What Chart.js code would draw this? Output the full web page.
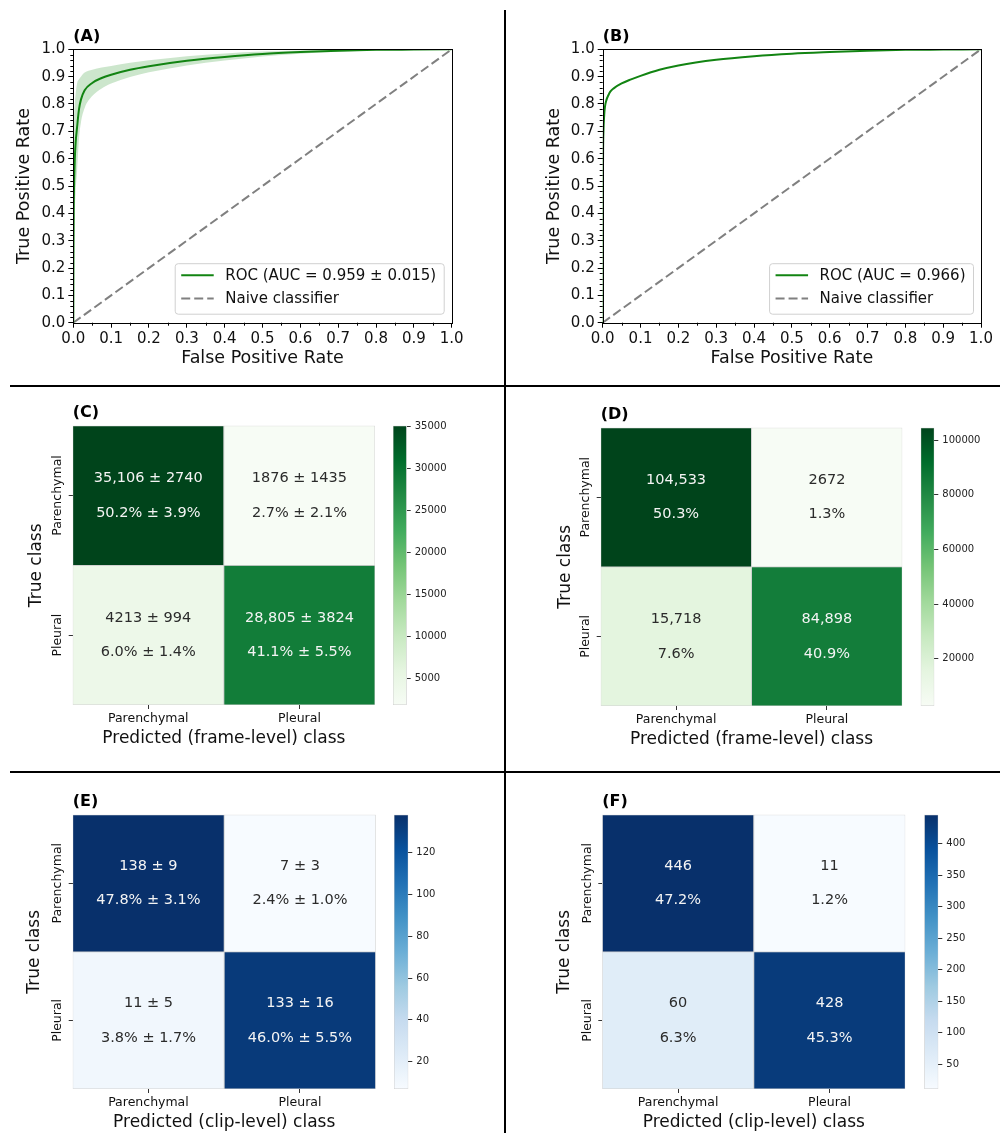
<!DOCTYPE html>
<html>
<head>
<meta charset="utf-8">
<script src="https://cdn.jsdelivr.net/npm/chart.js@4.4.1/dist/chart.umd.min.js"></script>
<style>
  html, body { margin: 0; padding: 0; background: #fff; }
  #fig { position: relative; width: 1003px; height: 1133px; overflow: hidden; background: #fff; }
  #fig canvas { position: absolute; }
  .rule { position: absolute; background: #000; }
</style>
</head>
<body>
<div id="fig">
  <canvas id="rocA" width="500" height="380" style="left:0px;top:0px"></canvas>
  <canvas id="rocB" width="473" height="380" style="left:530px;top:0px"></canvas>
  <canvas id="cmC" width="390" height="370" style="left:0px;top:390px"></canvas>
  <canvas id="cbC" width="120" height="370" style="left:380px;top:390px"></canvas>
  <canvas id="cmD" width="385" height="370" style="left:530px;top:390px"></canvas>
  <canvas id="cbD" width="88" height="370" style="left:915px;top:390px"></canvas>
  <canvas id="cmE" width="390" height="361" style="left:0px;top:772px"></canvas>
  <canvas id="cbE" width="120" height="361" style="left:380px;top:772px"></canvas>
  <canvas id="cmF" width="385" height="361" style="left:530px;top:772px"></canvas>
  <canvas id="cbF" width="88" height="361" style="left:915px;top:772px"></canvas>
  <div class="rule" style="left:504px;top:10px;width:2px;height:1123px"></div>
  <div class="rule" style="left:10px;top:385px;width:990px;height:2px"></div>
  <div class="rule" style="left:10px;top:771px;width:990px;height:2px"></div>
</div>
<script>
// ---------- ROC curves ----------
// (A) cross-validation: mean curve and ±1 sd band
const rocFprA      = [0, 0.0005, 0.001, 0.002, 0.004, 0.006, 0.01, 0.015, 0.02, 0.03, 0.05, 0.075, 0.1, 0.15, 0.2, 0.3, 0.4, 0.5, 0.6, 0.7, 0.8, 0.9, 1.0];
const rocTprMeanA  = [0, 0.25, 0.40, 0.50, 0.60, 0.655, 0.715, 0.78, 0.815, 0.85, 0.877, 0.895, 0.907, 0.925, 0.938, 0.958, 0.972, 0.983, 0.990, 0.995, 0.998, 0.999, 1.0];
const rocTprUpperA = [0, 0.45, 0.65, 0.74, 0.80, 0.835, 0.875, 0.89, 0.90, 0.915, 0.925, 0.933, 0.939, 0.951, 0.960, 0.975, 0.985, 0.992, 0.996, 0.999, 1.0, 1.0, 1.0];
const rocTprLowerA = [0, 0.05, 0.15, 0.26, 0.40, 0.475, 0.555, 0.67, 0.73, 0.785, 0.829, 0.857, 0.875, 0.899, 0.916, 0.941, 0.959, 0.974, 0.984, 0.991, 0.996, 0.998, 1.0];
// (B) hold-out set
const rocFprB = [0, 0.0005, 0.001, 0.002, 0.004, 0.006, 0.01, 0.015, 0.02, 0.03, 0.05, 0.075, 0.1, 0.15, 0.2, 0.3, 0.4, 0.5, 0.6, 0.7, 0.8, 0.9, 1.0];
const rocTprB = [0, 0.45, 0.62, 0.70, 0.76, 0.79, 0.815, 0.832, 0.845, 0.858, 0.875, 0.89, 0.903, 0.925, 0.941, 0.962, 0.975, 0.984, 0.990, 0.995, 0.998, 0.999, 1.0];
const naiveLine = [0, 1];
const rocTicks = [0, 0.1, 0.2, 0.3, 0.4, 0.5, 0.6, 0.7, 0.8, 0.9, 1.0];
const rocLabelA = 'ROC (AUC = 0.959 \u00b1 0.015)';
const rocLabelB = 'ROC (AUC = 0.966)';
const naiveLabel = 'Naive classifier';

// ---------- Confusion matrices (rows: true class, cols: predicted class) ----------
const classLabels = ['Parenchymal', 'Pleural'];
// (C) frame level, cross-validation mean ± sd
const frameCountMean = [[35106, 1876], [4213, 28805]];
const frameCountSd   = [[2740, 1435], [994, 3824]];
const framePctMean   = [[50.2, 2.7], [6.0, 41.1]];
const framePctSd     = [[3.9, 2.1], [1.4, 5.5]];
// (D) frame level, hold-out
const frameCountHold = [[104533, 2672], [15718, 84898]];
const framePctHold   = [[50.3, 1.3], [7.6, 40.9]];
// (E) clip level, cross-validation mean ± sd
const clipCountMean = [[138, 7], [11, 133]];
const clipCountSd   = [[9, 3], [5, 16]];
const clipPctMean   = [[47.8, 2.4], [3.8, 46.0]];
const clipPctSd     = [[3.1, 1.0], [1.7, 5.5]];
// (F) clip level, hold-out
const clipCountHold = [[446, 11], [60, 428]];
const clipPctHold   = [[47.2, 1.2], [6.3, 45.3]];
// colour bar ticks
const cbTicksC = [5000, 10000, 15000, 20000, 25000, 30000, 35000];
const cbTicksD = [20000, 40000, 60000, 80000, 100000];
const cbTicksE = [20, 40, 60, 80, 100, 120];
const cbTicksF = [50, 100, 150, 200, 250, 300, 350, 400];

// ---------- styling ----------
const FONT = "'DejaVu Sans', sans-serif";
const GREENS = ['#f7fcf5', '#e5f5e0', '#c7e9c0', '#a1d99b', '#74c476', '#41ab5d', '#238b45', '#006d2c', '#00441b'];
const BLUES  = ['#f7fbff', '#deebf7', '#c6dbef', '#9ecae1', '#6baed6', '#4292c6', '#2171b5', '#08519c', '#08306b'];
const ROC_GREEN = 'rgb(18,132,18)';
const BAND_GREEN = 'rgba(0,128,0,0.2)';
const TEXT = '#111';

Chart.defaults.font.family = FONT;
Chart.defaults.color = TEXT;

function hexToRgb(h) {
  const n = parseInt(h.slice(1), 16);
  return [(n >> 16) & 255, (n >> 8) & 255, n & 255];
}
function cmapRgb(stops, t) {
  t = Math.min(1, Math.max(0, t));
  const pos = t * (stops.length - 1);
  const i = Math.min(stops.length - 2, Math.floor(pos));
  const f = pos - i;
  const a = hexToRgb(stops[i]), b = hexToRgb(stops[i + 1]);
  return a.map((v, k) => Math.round(v + (b[k] - v) * f));
}
function luminance(rgb) {
  const lin = rgb.map(v => { v /= 255; return v <= 0.03928 ? v / 12.92 : Math.pow((v + 0.055) / 1.055, 2.4); });
  return 0.2126 * lin[0] + 0.7152 * lin[1] + 0.0722 * lin[2];
}
const rgbStr = c => `rgb(${c[0]},${c[1]},${c[2]})`;
const fmtCount = v => v >= 10000 ? v.toLocaleString('en-US') : String(v);
const fmtPct = v => v.toFixed(1) + '%';
const pts = (xs, ys) => xs.map((x, i) => ({ x, y: ys[i] }));

// panel letter above the plotting area
const panelLetter = {
  id: 'panelLetter',
  afterDraw(chart, args, opts) {
    const { ctx, chartArea: a } = chart;
    ctx.save();
    ctx.font = `bold 16px ${FONT}`;
    ctx.fillStyle = '#000';
    ctx.textAlign = 'left';
    ctx.textBaseline = 'middle';
    ctx.fillText(opts.text, a.left, a.top - 12.5);
    ctx.restore();
  }
};

// axes frame, minor ticks and legend box for the ROC panels
const rocDecor = {
  id: 'rocDecor',
  afterDraw(chart) {
    const { ctx, chartArea: a, scales } = chart;
    ctx.save();
    ctx.strokeStyle = '#000';
    ctx.lineWidth = 1;
    ctx.strokeRect(Math.round(a.left) + 0.5, Math.round(a.top) + 0.5,
                   Math.round(a.right) - Math.round(a.left), Math.round(a.bottom) - Math.round(a.top));
    // minor ticks
    ctx.beginPath();
    for (let i = 0; i < rocTicks.length - 1; i++) {
      const lo = rocTicks[i], hi = rocTicks[i + 1];
      const xm = scales.x.getPixelForValue((lo + hi) / 2);
      ctx.moveTo(Math.round(xm) + 0.5, a.bottom);
      ctx.lineTo(Math.round(xm) + 0.5, a.bottom + 3);
      for (let k = 1; k < 5; k++) {
        const yv = scales.y.getPixelForValue(lo + (hi - lo) * k / 5);
        ctx.moveTo(a.left, Math.round(yv) + 0.5);
        ctx.lineTo(a.left - 3, Math.round(yv) + 0.5);
      }
    }
    ctx.stroke();
    // legend
    const items = chart.data.datasets.filter(d => d.inLegend);
    ctx.font = `15px ${FONT}`;
    const tw = Math.max(...items.map(d => ctx.measureText(d.label).width));
    const w = 50 + tw + 8, h = 50.5;
    const right = a.right - 7.5, bottom = a.bottom - 8.5;
    const left = right - w, top = bottom - h;
    ctx.beginPath();
    ctx.roundRect(left, top, w, h, 3);
    ctx.fillStyle = 'rgba(255,255,255,0.8)';
    ctx.fill();
    ctx.strokeStyle = '#d0d0d0';
    ctx.stroke();
    items.forEach((d, i) => {
      const y = top + 11.5 + i * 23.4;
      ctx.beginPath();
      ctx.setLineDash(d.borderDash || []);
      ctx.strokeStyle = d.borderColor;
      ctx.lineWidth = d.borderWidth;
      ctx.moveTo(left + 6, y);
      ctx.lineTo(left + 38.5, y);
      ctx.stroke();
      ctx.setLineDash([]);
      ctx.fillStyle = TEXT;
      ctx.textAlign = 'left';
      ctx.textBaseline = 'middle';
      ctx.fillText(d.label, left + 50, y + 0.5);
    });
    ctx.restore();
  }
};

function rocAxis(title, fitSize, titlePad, isX) {
  return {
    type: 'linear', min: 0, max: 1,
    afterBuildTicks: s => { s.ticks = rocTicks.map(v => ({ value: v })); },
    ticks: { callback: v => v.toFixed(1), font: { size: 15 }, color: TEXT, padding: isX ? 2 : 3, autoSkip: false, maxRotation: 0 },
    grid: { display: true, drawOnChartArea: false, drawTicks: true, tickLength: 5, color: '#000' },
    border: { display: false },
    title: { display: true, text: title, font: { size: 17.5 }, color: TEXT,
             padding: isX ? { top: 0, bottom: titlePad } : { top: titlePad, bottom: 0 } },
    afterFit: s => { if (isX) s.height = fitSize; else s.width = fitSize; }
  };
}

function rocChart(id, letter, datasets, pad, yW, yTitlePad) {
  new Chart(document.getElementById(id), {
    type: 'line',
    data: { datasets },
    plugins: [rocDecor, panelLetter],
    options: {
      responsive: false, animation: false, devicePixelRatio: 1,
      layout: { padding: pad },
      elements: { point: { radius: 0 } },
      plugins: { legend: { display: false }, tooltip: { enabled: false }, panelLetter: { text: letter } },
      scales: {
        x: rocAxis('False Positive Rate', 57.3, 11.2, true),
        y: rocAxis('True Positive Rate', yW, yTitlePad, false)
      }
    }
  });
}

const naiveDataset = {
  label: naiveLabel, inLegend: true,
  data: pts(naiveLine, naiveLine),
  borderColor: '#808080', borderWidth: 2, borderDash: [9, 4], fill: false
};

rocChart('rocA', '(A)', [
  { label: rocLabelA, inLegend: true, data: pts(rocFprA, rocTprMeanA),
    borderColor: ROC_GREEN, borderWidth: 2, cubicInterpolationMode: 'monotone', fill: false },
  naiveDataset,
  { label: '+1 sd', data: pts(rocFprA, rocTprUpperA), borderColor: 'rgba(0,0,0,0)', borderWidth: 0,
    backgroundColor: BAND_GREEN, cubicInterpolationMode: 'monotone', fill: '+1' },
  { label: '-1 sd', data: pts(rocFprA, rocTprLowerA), borderColor: 'rgba(0,0,0,0)', borderWidth: 0,
    cubicInterpolationMode: 'monotone', fill: false }
], { top: 49.3, right: 48.3, left: 0, bottom: 0 }, 73.3, 14.3);

rocChart('rocB', '(B)', [
  { label: rocLabelB, inLegend: true, data: pts(rocFprB, rocTprB),
    borderColor: ROC_GREEN, borderWidth: 2, cubicInterpolationMode: 'monotone', fill: false },
  Object.assign({}, naiveDataset)
], { top: 49.3, right: 22, left: 0, bottom: 0 }, 72.7, 13.5);

// ---------- confusion matrix heat maps ----------
const heatText = {
  id: 'heatText',
  afterDraw(chart, args, o) {
    const { ctx, chartArea: a, scales } = chart;
    ctx.save();
    // rotated row labels
    ctx.font = `12.5px ${FONT}`;
    ctx.fillStyle = TEXT;
    ctx.textAlign = 'center';
    ctx.textBaseline = 'middle';
    classLabels.forEach((lab, r) => {
      ctx.save();
      ctx.translate(a.left - 15, scales.y.getPixelForValue(r + 0.5));
      ctx.rotate(-Math.PI / 2);
      ctx.fillText(lab, 0, 0);
      ctx.restore();
    });
    // cell annotations
    ctx.font = `14.5px ${FONT}`;
    o.counts.forEach((row, r) => row.forEach((v, c) => {
      const rgb = cmapRgb(o.cmap, (v - o.vmin) / (o.vmax - o.vmin));
      ctx.fillStyle = luminance(rgb) > 0.408 ? '#2b2b2b' : '#f4f4f4';
      const x = scales.x.getPixelForValue(c);
      const y = scales.y.getPixelForValue(r + 0.5);
      let l1 = fmtCount(v);
      let l2 = fmtPct(o.pcts[r][c]);
      if (o.countSd) l1 += ' \u00b1 ' + o.countSd[r][c];
      if (o.pctSd) l2 += ' \u00b1 ' + fmtPct(o.pctSd[r][c]);
      ctx.fillText(l1, x, y - 17.4);
      ctx.fillText(l2, x, y + 17.4);
    }));
    ctx.restore();
  }
};

function heatmap(id, cfg) {
  const flat = cfg.counts.flat();
  const vmin = Math.min(...flat), vmax = Math.max(...flat);
  new Chart(document.getElementById(id), {
    type: 'bar',
    data: {
      labels: classLabels,
      datasets: cfg.counts.map((row, r) => ({
        label: classLabels[r],
        data: row.map(() => [r, r + 1]),
        backgroundColor: row.map(v => rgbStr(cmapRgb(cfg.cmap, (v - vmin) / (vmax - vmin)))),
        borderColor: 'rgba(205,205,205,0.9)', borderWidth: 0.8, borderSkipped: false,
        grouped: false, barPercentage: 1, categoryPercentage: 1
      }))
    },
    plugins: [heatText, panelLetter],
    options: {
      responsive: false, animation: false, devicePixelRatio: 1,
      layout: { padding: cfg.pad },
      plugins: {
        legend: { display: false }, tooltip: { enabled: false },
        panelLetter: { text: cfg.letter },
        heatText: { counts: cfg.counts, countSd: cfg.countSd, pcts: cfg.pcts, pctSd: cfg.pctSd, cmap: cfg.cmap, vmin, vmax }
      },
      scales: {
        x: {
          ticks: { font: { size: 12.5 }, color: TEXT, padding: 2.5, maxRotation: 0 },
          grid: { display: true, drawOnChartArea: false, offset: false, drawTicks: true, tickLength: 4, color: '#333' },
          border: { display: false },
          title: { display: true, text: cfg.xTitle, font: { size: 17 }, color: TEXT, padding: { top: 0, bottom: cfg.xTitlePad } },
          afterFit: s => { s.height = cfg.xH; }
        },
        y: {
          min: 0, max: 2, reverse: true,
          afterBuildTicks: s => { s.ticks = [{ value: 0.5 }, { value: 1.5 }]; },
          ticks: { display: false },
          grid: { display: true, drawOnChartArea: false, drawTicks: true, tickLength: 4, color: '#333' },
          border: { display: false },
          title: { display: true, text: 'True class', font: { size: 17 }, color: TEXT, padding: { top: cfg.yTitlePad, bottom: 0 } },
          afterFit: s => { s.width = cfg.yW; }
        }
      }
    }
  });
  return { vmin, vmax };
}

function colorbar(id, cfg) {
  const { vmin, vmax, cmap } = cfg;
  new Chart(document.getElementById(id), {
    type: 'bar',
    data: {
      labels: [''],
      datasets: [{
        data: [[vmin, vmax]],
        backgroundColor: ctx => {
          const ch = ctx.chart, ys = ch.scales.y;
          if (!ys || !ch.chartArea) return cmap[0];
          const g = ch.ctx.createLinearGradient(0, ys.getPixelForValue(vmin), 0, ys.getPixelForValue(vmax));
          cmap.forEach((c, i) => g.addColorStop(i / (cmap.length - 1), c));
          return g;
        },
        borderColor: 'rgba(200,200,200,0.9)', borderWidth: 0.8, borderSkipped: false,
        barPercentage: 1, categoryPercentage: 1
      }]
    },
    options: {
      responsive: false, animation: false, devicePixelRatio: 1,
      layout: { padding: { left: cfg.padLeft, top: cfg.padTop, bottom: cfg.padBottom, right: 0 } },
      plugins: { legend: { display: false }, tooltip: { enabled: false } },
      scales: {
        x: { display: false },
        y: {
          position: 'right', min: vmin, max: vmax,
          afterBuildTicks: s => { s.ticks = cfg.ticks.map(v => ({ value: v })); },
          ticks: { callback: v => String(v), font: { size: 10 }, color: '#222', padding: 4, autoSkip: false },
          grid: { display: true, drawOnChartArea: false, drawTicks: true, tickLength: 4, color: '#333' },
          border: { display: false },
          afterFit: s => { s.width = cfg.width - cfg.padLeft - cfg.barW; }
        }
      }
    }
  });
}

const rC = heatmap('cmC', { letter: '(C)', counts: frameCountMean, countSd: frameCountSd, pcts: framePctMean, pctSd: framePctSd,
  cmap: GREENS, xTitle: 'Predicted (frame-level) class', pad: { top: 35.7, right: 15, left: 0, bottom: 0 },
  yW: 72.7, xH: 55, xTitlePad: 11.5, yTitlePad: 26.8 });
colorbar('cbC', { vmin: rC.vmin, vmax: rC.vmax, cmap: GREENS, ticks: cbTicksC, width: 120, padLeft: 13, barW: 13.7, padTop: 35.7, padBottom: 55 });

const rD = heatmap('cmD', { letter: '(D)', counts: frameCountHold, pcts: framePctHold,
  cmap: GREENS, xTitle: 'Predicted (frame-level) class', pad: { top: 37.7, right: 12.7, left: 0, bottom: 0 },
  yW: 70.7, xH: 54, xTitlePad: 9.8, yTitlePad: 25.5 });
colorbar('cbD', { vmin: rD.vmin, vmax: rD.vmax, cmap: GREENS, ticks: cbTicksD, width: 88, padLeft: 5.7, barW: 13.6, padTop: 37.7, padBottom: 54 });

const rE = heatmap('cmE', { letter: '(E)', counts: clipCountMean, countSd: clipCountSd, pcts: clipPctMean, pctSd: clipPctSd,
  cmap: BLUES, xTitle: 'Predicted (clip-level) class', pad: { top: 42.7, right: 14.3, left: 0, bottom: 0 },
  yW: 72.7, xH: 44, xTitlePad: 0, yTitlePad: 24.8 });
colorbar('cbE', { vmin: rE.vmin, vmax: rE.vmax, cmap: BLUES, ticks: cbTicksE, width: 120, padLeft: 14, barW: 14.3, padTop: 42.7, padBottom: 44 });

const rF = heatmap('cmF', { letter: '(F)', counts: clipCountHold, pcts: clipPctHold,
  cmap: BLUES, xTitle: 'Predicted (clip-level) class', pad: { top: 42.7, right: 9.7, left: 0, bottom: 0 },
  yW: 72.3, xH: 44, xTitlePad: 0, yTitlePad: 24 });
colorbar('cbF', { vmin: rF.vmin, vmax: rF.vmax, cmap: BLUES, ticks: cbTicksF, width: 88, padLeft: 9.3, barW: 14, padTop: 42.7, padBottom: 44 });
</script>
</body>
</html>
